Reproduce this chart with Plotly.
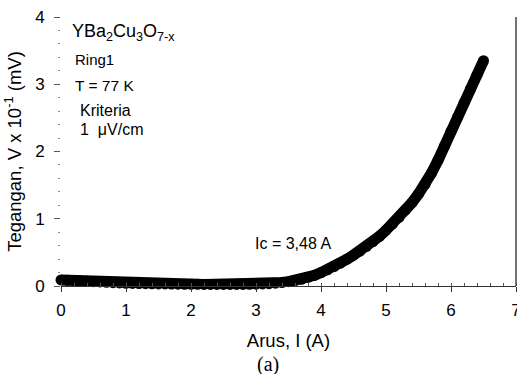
import plotly.graph_objects as go

# Current I (A)
arus = [0.0, 0.1, 0.2, 0.3, 0.4, 0.5, 0.6, 0.7, 0.8, 0.9,
        1.0, 1.1, 1.2, 1.3, 1.4, 1.5, 1.6, 1.7, 1.8, 1.9,
        2.0, 2.1, 2.2, 2.3, 2.4, 2.5, 2.6, 2.7, 2.8, 2.9,
        3.0, 3.1, 3.2, 3.3, 3.4, 3.5, 3.6, 3.7, 3.8, 3.9,
        4.0, 4.1, 4.2, 4.3, 4.4, 4.5, 4.6, 4.7, 4.8, 4.9,
        5.0, 5.1, 5.2, 5.3, 5.4, 5.5, 5.6, 5.7, 5.8, 5.9,
        6.0, 6.1, 6.2, 6.3, 6.4, 6.5]
# Voltage V x 10^-1 (mV)
tegangan = [0.09, 0.085, 0.08, 0.075, 0.07, 0.065, 0.06, 0.055, 0.05, 0.045,
            0.04, 0.038, 0.036, 0.034, 0.032, 0.03, 0.03, 0.028, 0.027, 0.026,
            0.025, 0.025, 0.024, 0.024, 0.023, 0.023, 0.023, 0.023, 0.024, 0.025,
            0.027, 0.03, 0.035, 0.042, 0.052, 0.065, 0.08, 0.10, 0.13, 0.16,
            0.20, 0.24, 0.29, 0.34, 0.40, 0.46, 0.52, 0.59, 0.66, 0.74,
            0.83, 0.92, 1.02, 1.13, 1.24, 1.37, 1.51, 1.68, 1.87, 2.08,
            2.30, 2.51, 2.72, 2.93, 3.14, 3.35]

x_ticks = [0, 1, 2, 3, 4, 5, 6, 7]
y_ticks = [0, 1, 2, 3, 4]

FONT = "Liberation Sans, Arial, sans-serif"

fig = go.Figure()
fig.add_trace(go.Scatter(
    x=arus, y=tegangan, mode="lines+markers",
    line=dict(color="black", width=11),
    marker=dict(color="black", size=11),
    cliponaxis=False, showlegend=False,
))

fig.update_layout(
    width=517, height=374,
    margin=dict(l=61, r=1, t=17, b=88),
    paper_bgcolor="white", plot_bgcolor="white",
    font=dict(family=FONT, size=17, color="black"),
    xaxis=dict(
        range=[0, 7], tickvals=x_ticks, showgrid=False, zeroline=False,
        automargin=False, ticklabeloverflow="allow",
        showline=True, linecolor="#333", linewidth=1,
        ticks="outside", ticklen=5, tickcolor="#333",
        minor=dict(dtick=0.2, ticks="inside", ticklen=3, tickcolor="#555"),
        tickfont=dict(size=17), ticklabelstandoff=4,
        title=dict(text="Arus, I (A)", font=dict(size=18.5), standoff=14),
    ),
    yaxis=dict(
        range=[0, 4], tickvals=y_ticks, showgrid=False, zeroline=False,
        automargin=False, ticklabeloverflow="allow",
        showline=False,
        ticks="outside", ticklen=6, tickcolor="#555",
        minor=dict(dtick=0.2, ticks="outside", ticklen=2, tickcolor="#888"),
        tickfont=dict(size=17), ticklabelstandoff=6,
        title=dict(text="Tegangan, V x 10<sup>-1</sup> (mV)", font=dict(size=18.5), standoff=8),
    ),
    shapes=[dict(type="line", xref="paper", yref="paper", x0=1, x1=1, y0=0, y1=1,
                 line=dict(color="#444", width=1.5))],
)

notes = [
    ("YBa<sub>2</sub>Cu<sub>3</sub>O<sub>7-x</sub>", 70, 33, 18),
    ("Ring1", 73, 60, 15),
    ("T = 77 K", 73, 85, 15.5),
    ("Kriteria", 78, 110, 16),
    ("1  \u03bcV/cm", 78, 129, 16),
    ("Ic = 3,48 A", 253, 243, 16),
]
for text, px, py, fs in notes:
    fig.add_annotation(
        text=text, xref="paper", yref="paper",
        x=(px - 61) / 455, y=(286 - py) / 269,
        xanchor="left", yanchor="middle", showarrow=False,
        font=dict(family=FONT, size=fs, color="black"),
    )

fig.add_annotation(
    text="(a)", xref="paper", yref="paper",
    x=(268 - 61) / 455, y=(286 - 364) / 269,
    xanchor="center", yanchor="middle", showarrow=False,
    font=dict(family="Liberation Serif, Times New Roman, serif", size=20, color="black"),
)

fig.write_html("out.html", config={"displayModeBar": False},
               post_script="document.body.style.margin='0px';document.body.style.overflow='hidden';")
